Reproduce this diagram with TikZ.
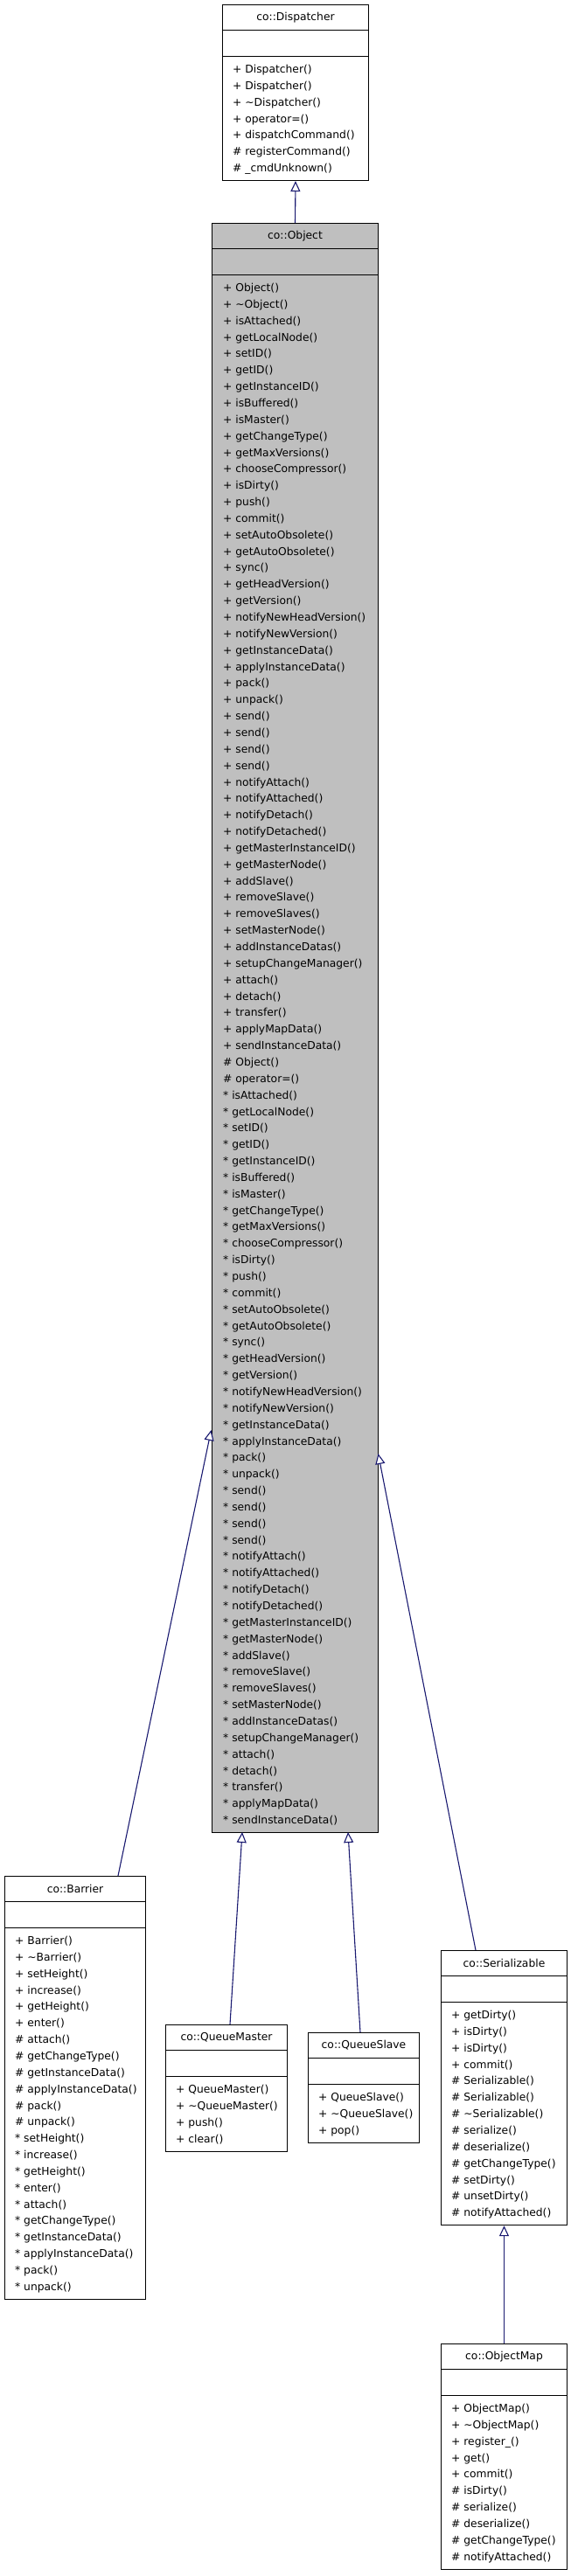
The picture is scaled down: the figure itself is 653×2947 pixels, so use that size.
\documentclass[tikz,border=0pt]{standalone}
\usepackage{fontspec}
\setmainfont{DejaVu Sans}
\usetikzlibrary{arrows.meta}
\definecolor{edgeblue}{HTML}{191970}
\definecolor{objgray}{HTML}{BFBFBF}
\tikzset{
  clsbox/.style={draw=black, line width=1pt, anchor=north west, inner sep=0pt},
  sepline/.style={draw=black, line width=1pt},
  clstitle/.style={inner sep=0pt, font=\fontsize{12.3}{14}\selectfont},
  mrow/.style={anchor=base west, inner sep=0pt, font=\fontsize{12.3}{14}\selectfont},
  inh/.style={draw=edgeblue, line width=1.1pt, -{Triangle[length=12pt,width=11pt,fill=white]}}
}
\newcommand\classbox[7]{%
  \node[clsbox, fill=#6, minimum width=#4pt, minimum height={(88+(#5-1)*18.85)*1pt}] (#1) at (#2,#3) {};
  \draw[sepline] ([yshift=-29.5pt]#1.north west) -- ([yshift=-29.5pt]#1.north east);
  \draw[sepline] ([yshift=-59pt]#1.north west) -- ([yshift=-59pt]#1.north east);
  \node[clstitle] (#1-title) at ([yshift=-15pt]#1.north) {#7};
}
\newcommand\classrows[4]{%
  \foreach \rowtxt [count=\ri] in {#4} {\node[mrow] (#1-\ri) at ({#2+12},{#3+78.5+(\ri-1)*18.85}) {\rowtxt};}
}
\newcommand\tl{\textasciitilde}
\begin{document}
\begin{tikzpicture}[x=1pt,y=-1pt]
\useasboundingbox[fill=white] (0,0) rectangle (653,2947);

% co::Dispatcher
\classbox{disp}{254}{5}{167}{7}{white}{co::Dispatcher}
\classrows{disp}{254}{5}{+ Dispatcher(),+ Dispatcher(),+ \tl Dispatcher(),+ operator=(),+ dispatchCommand(),\# registerCommand(),\# \_cmdUnknown()}

% co::Object
\classbox{obj}{242}{255}{190}{94}{objgray}{co::Object}
\classrows{obj}{243}{255}{+ Object(),+ \tl Object(),+ isAttached(),+ getLocalNode(),+ setID(),+ getID(),+ getInstanceID(),+ isBuffered(),+ isMaster(),+ getChangeType(),+ getMaxVersions(),+ chooseCompressor(),+ isDirty(),+ push(),+ commit(),+ setAutoObsolete(),+ getAutoObsolete(),+ sync(),+ getHeadVersion(),+ getVersion(),+ notifyNewHeadVersion(),+ notifyNewVersion(),+ getInstanceData(),+ applyInstanceData(),+ pack(),+ unpack(),+ send(),+ send(),+ send(),+ send(),+ notifyAttach(),+ notifyAttached(),+ notifyDetach(),+ notifyDetached(),+ getMasterInstanceID(),+ getMasterNode(),+ addSlave(),+ removeSlave(),+ removeSlaves(),+ setMasterNode(),+ addInstanceDatas(),+ setupChangeManager(),+ attach(),+ detach(),+ transfer(),+ applyMapData(),+ sendInstanceData(),\# Object(),\# operator=(),* isAttached(),* getLocalNode(),* setID(),* getID(),* getInstanceID(),* isBuffered(),* isMaster(),* getChangeType(),* getMaxVersions(),* chooseCompressor(),* isDirty(),* push(),* commit(),* setAutoObsolete(),* getAutoObsolete(),* sync(),* getHeadVersion(),* getVersion(),* notifyNewHeadVersion(),* notifyNewVersion(),* getInstanceData(),* applyInstanceData(),* pack(),* unpack(),* send(),* send(),* send(),* send(),* notifyAttach(),* notifyAttached(),* notifyDetach(),* notifyDetached(),* getMasterInstanceID(),* getMasterNode(),* addSlave(),* removeSlave(),* removeSlaves(),* setMasterNode(),* addInstanceDatas(),* setupChangeManager(),* attach(),* detach(),* transfer(),* applyMapData(),* sendInstanceData()}

% co::Barrier
\classbox{bar}{5}{2146}{161}{22}{white}{co::Barrier}
\classrows{bar}{5}{2146}{+ Barrier(),+ \tl Barrier(),+ setHeight(),+ increase(),+ getHeight(),+ enter(),\# attach(),\# getChangeType(),\# getInstanceData(),\# applyInstanceData(),\# pack(),\# unpack(),* setHeight(),* increase(),* getHeight(),* enter(),* attach(),* getChangeType(),* getInstanceData(),* applyInstanceData(),* pack(),* unpack()}

% co::QueueMaster
\classbox{qm}{189}{2316}{139}{4}{white}{co::QueueMaster}
\classrows{qm}{189}{2316}{+ QueueMaster(),+ \tl QueueMaster(),+ push(),+ clear()}

% co::QueueSlave
\classbox{qs}{352}{2325}{127}{3}{white}{co::QueueSlave}
\classrows{qs}{352}{2325}{+ QueueSlave(),+ \tl QueueSlave(),+ pop()}

% co::Serializable
\classbox{ser}{504}{2231}{144}{13}{white}{co::Serializable}
\classrows{ser}{504}{2231}{+ getDirty(),+ isDirty(),+ isDirty(),+ commit(),\# Serializable(),\# Serializable(),\# \tl Serializable(),\# serialize(),\# deserialize(),\# getChangeType(),\# setDirty(),\# unsetDirty(),\# notifyAttached()}

% co::ObjectMap
\classbox{om}{504}{2681}{144}{10}{white}{co::ObjectMap}
\classrows{om}{504}{2681}{+ ObjectMap(),+ \tl ObjectMap(),+ register\_(),+ get(),+ commit(),\# isDirty(),\# serialize(),\# deserialize(),\# getChangeType(),\# notifyAttached()}

% connector end points
\coordinate (barTop) at (135,2146);
\coordinate (objL) at (241.5,1636);
\coordinate (qmTop) at (263,2316);
\coordinate (objB1) at (277,2096);
\coordinate (qsTop) at (412,2325);
\coordinate (objB2) at (398,2096);
\coordinate (serTop) at (544,2231);
\coordinate (objR) at (432.5,1663);

% inheritance connectors
\draw[inh] (obj.north) -- (disp.south);
\draw[inh] (barTop) -- (objL);
\draw[inh] (qmTop) -- (objB1);
\draw[inh] (qsTop) -- (objB2);
\draw[inh] (serTop) -- (objR);
\draw[inh] (om.north) -- (ser.south);
\end{tikzpicture}
\end{document}
